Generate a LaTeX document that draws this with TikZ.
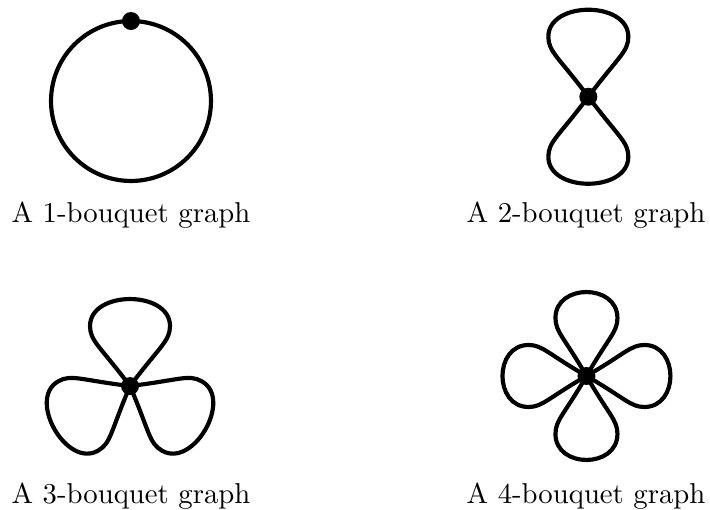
\documentclass[tikz,border=0pt]{standalone}
\usepackage{amsmath,amssymb}
\usepackage{xcolor}
\usepackage{tikz}
\usetikzlibrary{positioning,calc}

\begin{document}
\begin{tikzpicture}[
  edge/.style={line width=1.45pt},
  dot/.style={circle, fill, inner sep=0pt, minimum size=0.22cm},
  lbl/.style={anchor=base, inner sep=0pt},
  bigpetal/.pic={
    \draw[edge] (0,0) .. controls (0.367,0.489) and (0.489,0.550) .. (0.489,0.734)
      .. controls (0.489,1.174) and (-0.489,1.174) .. (-0.489,0.734)
      .. controls (-0.489,0.550) and (-0.367,0.489) .. (0,0);
  },
  smallpetal/.pic={
    \draw[edge] (0,0) .. controls (0.275,0.477) and (0.379,0.538) .. (0.379,0.709)
      .. controls (0.379,1.133) and (-0.379,1.133) .. (-0.379,0.709)
      .. controls (-0.379,0.538) and (-0.275,0.477) .. (0,0);
  },
]
\useasboundingbox (0,0) rectangle (8.683,-6.225);

% ===== 1-bouquet =====
\coordinate (c1) at (1.602,-1.235);
\draw[edge] (c1) circle (0.978);
\node[dot] (v1) at ($(c1)+(0,0.978)$) {};
\node[lbl] (l1) at (1.602,-2.727) {A 1-bouquet graph};

% ===== 2-bouquet =====
\coordinate (v2) at (7.195,-1.183);
\pic at (v2) {bigpetal};
\pic[rotate=180] at (v2) {bigpetal};
\node[dot] (d2) at (v2) {};
\node[lbl] (l2) at (7.167,-2.727) {A 2-bouquet graph};

% ===== 3-bouquet =====
\coordinate (v3) at (1.590,-4.721);
\pic at (v3) {bigpetal};
\pic[rotate=120] at (v3) {bigpetal};
\pic[rotate=240] at (v3) {bigpetal};
\node[dot] (d3) at (v3) {};
\node[lbl] (l3) at (1.602,-6.152) {A 3-bouquet graph};

% ===== 4-bouquet =====
\coordinate (v4) at (7.172,-4.598);
\pic at (v4) {smallpetal};
\pic[rotate=90] at (v4) {smallpetal};
\pic[rotate=180] at (v4) {smallpetal};
\pic[rotate=270] at (v4) {smallpetal};
\node[dot] (d4) at (v4) {};
\node[lbl] (l4) at (7.167,-6.152) {A 4-bouquet graph};

\end{tikzpicture}
\end{document}
